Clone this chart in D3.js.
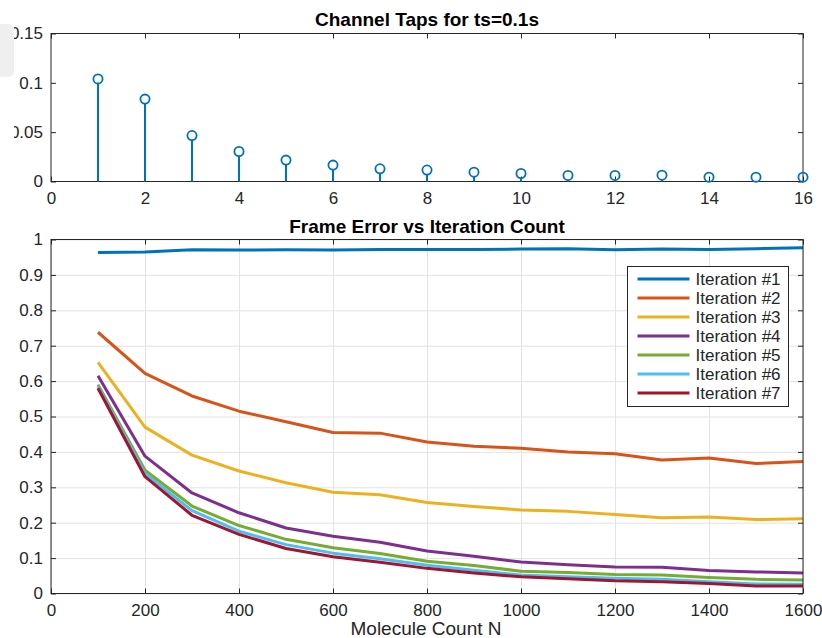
<!DOCTYPE html>
<html>
<head>
    <style>
        body { margin: 0; background: #fff; }
        text { font-family: "Liberation Sans", Arial, sans-serif; fill: #262626; }
        .axis path, .axis line { stroke: #262626; }
        .title { font-weight: bold; fill: #000; }
    </style>
    <script src="https://d3js.org/d3.v7.min.js"></script>
</head>
<body>

<svg width="822" height="638"></svg>

<script>

    // top plot: channel taps
    var tapIndex = [1, 2, 3, 4, 5, 6, 7, 8, 9, 10, 11, 12, 13, 14, 15, 16];
    var tapValue = [0.104, 0.0835, 0.0466, 0.0304, 0.0217, 0.0166, 0.0129, 0.0116,
                    0.0095, 0.0081, 0.0061, 0.0061, 0.0064, 0.0044, 0.0044, 0.0044];
    var tapXTicks = [0, 2, 4, 6, 8, 10, 12, 14, 16];
    var tapYTicks = [0, 0.05, 0.1, 0.15];

    // bottom plot: frame error
    var moleculeCount = [100, 200, 300, 400, 500, 600, 700, 800, 900, 1000, 1100, 1200, 1300, 1400, 1500, 1600];
    var iterNames = ["Iteration #1", "Iteration #2", "Iteration #3", "Iteration #4",
                     "Iteration #5", "Iteration #6", "Iteration #7"];
    var iter1 = [0.963, 0.965, 0.971, 0.970, 0.971, 0.970, 0.972, 0.972, 0.972, 0.973, 0.974, 0.971, 0.973, 0.972, 0.974, 0.977];
    var iter2 = [0.738, 0.622, 0.558, 0.515, 0.485, 0.455, 0.453, 0.428, 0.416, 0.410, 0.400, 0.395, 0.377, 0.383, 0.367, 0.373];
    var iter3 = [0.653, 0.470, 0.391, 0.346, 0.313, 0.286, 0.279, 0.257, 0.246, 0.236, 0.232, 0.223, 0.214, 0.216, 0.209, 0.211];
    var iter4 = [0.615, 0.388, 0.284, 0.228, 0.185, 0.162, 0.145, 0.120, 0.105, 0.089, 0.081, 0.075, 0.074, 0.065, 0.061, 0.058];
    var iter5 = [0.590, 0.348, 0.247, 0.192, 0.153, 0.129, 0.113, 0.091, 0.079, 0.063, 0.059, 0.054, 0.052, 0.045, 0.040, 0.038];
    var iter6 = [0.585, 0.339, 0.234, 0.176, 0.138, 0.114, 0.098, 0.080, 0.066, 0.052, 0.047, 0.043, 0.040, 0.033, 0.027, 0.026];
    var iter7 = [0.580, 0.330, 0.221, 0.167, 0.127, 0.104, 0.088, 0.071, 0.058, 0.047, 0.042, 0.036, 0.033, 0.028, 0.021, 0.021];
    var errXTicks = [0, 200, 400, 600, 800, 1000, 1200, 1400, 1600];
    var errYTicks = [0, 0.1, 0.2, 0.3, 0.4, 0.5, 0.6, 0.7, 0.8, 0.9, 1];

    var iterSeries = [iter1, iter2, iter3, iter4, iter5, iter6, iter7];
    var colors = ["#0072BD", "#D95319", "#EDB120", "#7E2F8E", "#77AC30", "#4DBEEE", "#A2142F"];

    var svg = d3.select("svg");
    var fs = 17;

    var left = 51, right = 803;

    // ---------- top plot ----------
    var top1 = 33.5, bottom1 = 181.5;
    var x1 = d3.scaleLinear().domain([0, 16]).range([left, right]);
    var y1 = d3.scaleLinear().domain([0, 0.15]).range([bottom1, top1]);

    var g1 = svg.append("g");

    g1.append("g")
        .attr("class", "axis")
        .attr("transform", "translate(0," + bottom1 + ")")
        .call(d3.axisBottom(x1).tickValues(tapXTicks).tickSize(-5).tickPadding(10).tickFormat(d3.format("d")))
        .call(function(g) { g.select(".domain").remove(); })
        .selectAll("text").attr("font-size", fs);

    g1.append("g")
        .attr("class", "axis")
        .attr("transform", "translate(" + left + ",0)")
        .call(d3.axisLeft(y1).tickValues(tapYTicks).tickSize(-5).tickPadding(8)
            .tickFormat(function(d) { return d3.format("")(d); }))
        .call(function(g) { g.select(".domain").remove(); })
        .selectAll("text").attr("font-size", fs);

    // top & right ticks
    g1.append("g")
        .attr("class", "axis")
        .attr("transform", "translate(0," + top1 + ")")
        .call(d3.axisTop(x1).tickValues(tapXTicks).tickSize(-5).tickFormat(""))
        .call(function(g) { g.select(".domain").remove(); });
    g1.append("g")
        .attr("class", "axis")
        .attr("transform", "translate(" + right + ",0)")
        .call(d3.axisRight(y1).tickValues(tapYTicks).tickSize(-5).tickFormat(""))
        .call(function(g) { g.select(".domain").remove(); });

    g1.append("rect")
        .attr("x", left).attr("y", top1)
        .attr("width", right - left).attr("height", bottom1 - top1)
        .attr("fill", "none").attr("stroke", "#262626");

    g1.selectAll(".stem")
        .data(tapIndex)
        .enter().append("line")
        .attr("x1", function(d) { return x1(d); })
        .attr("x2", function(d) { return x1(d); })
        .attr("y1", y1(0))
        .attr("y2", function(d, i) { return y1(tapValue[i]) + 4.5; })
        .attr("stroke", colors[0])
        .attr("stroke-width", 2);

    g1.selectAll(".mark")
        .data(tapIndex)
        .enter().append("circle")
        .attr("cx", function(d) { return x1(d); })
        .attr("cy", function(d, i) { return y1(tapValue[i]); })
        .attr("r", 4.6)
        .attr("fill", "none")
        .attr("stroke", colors[0])
        .attr("stroke-width", 1.8);

    svg.append("text")
        .attr("class", "title")
        .attr("x", 427).attr("y", 26)
        .attr("text-anchor", "middle")
        .attr("font-size", 19)
        .text("Channel Taps for ts=0.1s");

    // ---------- bottom plot ----------
    var top2 = 239.5, bottom2 = 593.5;
    var x2 = d3.scaleLinear().domain([0, 1600]).range([left, right]);
    var y2 = d3.scaleLinear().domain([0, 1]).range([bottom2, top2]);

    var g2 = svg.append("g");

    // grid
    g2.append("g")
        .attr("transform", "translate(0," + bottom2 + ")")
        .call(d3.axisBottom(x2).tickValues(errXTicks).tickSize(-(bottom2 - top2)).tickFormat(""))
        .call(function(g) { g.select(".domain").remove(); })
        .selectAll("line").attr("stroke", "#e3e3e3");
    g2.append("g")
        .attr("transform", "translate(" + left + ",0)")
        .call(d3.axisLeft(y2).tickValues(errYTicks).tickSize(-(right - left)).tickFormat(""))
        .call(function(g) { g.select(".domain").remove(); })
        .selectAll("line").attr("stroke", "#e3e3e3");

    g2.append("g")
        .attr("class", "axis")
        .attr("transform", "translate(0," + bottom2 + ")")
        .call(d3.axisBottom(x2).tickValues(errXTicks).tickSize(-5).tickPadding(10).tickFormat(d3.format("d")))
        .call(function(g) { g.select(".domain").remove(); })
        .selectAll("text").attr("font-size", fs);

    g2.append("g")
        .attr("class", "axis")
        .attr("transform", "translate(" + left + ",0)")
        .call(d3.axisLeft(y2).tickValues(errYTicks).tickSize(-5).tickPadding(8)
            .tickFormat(function(d) { return d3.format("")(d); }))
        .call(function(g) { g.select(".domain").remove(); })
        .selectAll("text").attr("font-size", fs);

    g2.append("g")
        .attr("class", "axis")
        .attr("transform", "translate(0," + top2 + ")")
        .call(d3.axisTop(x2).tickValues(errXTicks).tickSize(-5).tickFormat(""))
        .call(function(g) { g.select(".domain").remove(); });
    g2.append("g")
        .attr("class", "axis")
        .attr("transform", "translate(" + right + ",0)")
        .call(d3.axisRight(y2).tickValues(errYTicks).tickSize(-5).tickFormat(""))
        .call(function(g) { g.select(".domain").remove(); });

    var line = d3.line()
        .x(function(d, i) { return x2(moleculeCount[i]); })
        .y(function(d) { return y2(d); });

    g2.selectAll(".series")
        .data(iterSeries)
        .enter().append("path")
        .attr("d", line)
        .attr("fill", "none")
        .attr("stroke", function(d, i) { return colors[i]; })
        .attr("stroke-width", 3)
        .attr("stroke-linejoin", "round");

    g2.append("rect")
        .attr("x", left).attr("y", top2)
        .attr("width", right - left).attr("height", bottom2 - top2)
        .attr("fill", "none").attr("stroke", "#262626");

    // legend
    var lg = svg.append("g").attr("transform", "translate(627.5,266.5)");
    lg.append("rect")
        .attr("width", 161).attr("height", 140)
        .attr("fill", "#fff").attr("stroke", "#262626");
    var rows = lg.selectAll(".row")
        .data(iterNames)
        .enter().append("g")
        .attr("transform", function(d, i) { return "translate(0," + (12.5 + i * 19) + ")"; });
    rows.append("line")
        .attr("x1", 10).attr("x2", 62)
        .attr("stroke", function(d, i) { return colors[i]; })
        .attr("stroke-width", 3);
    rows.append("text")
        .attr("x", 68).attr("y", 6)
        .attr("font-size", fs)
        .attr("fill", "#000")
        .text(function(d) { return d; });

    svg.append("text")
        .attr("class", "title")
        .attr("x", 427).attr("y", 233)
        .attr("text-anchor", "middle")
        .attr("font-size", 19)
        .text("Frame Error vs Iteration Count");

    svg.append("text")
        .attr("x", 426).attr("y", 635)
        .attr("text-anchor", "middle")
        .attr("font-size", 19)
        .text("Molecule Count N");

    // left edge of the figure is cut off, with a light grey tab on top
    svg.append("rect")
        .attr("x", 0).attr("y", 0)
        .attr("width", 14).attr("height", 200)
        .attr("fill", "#fff");
    svg.append("rect")
        .attr("x", -10).attr("y", 24)
        .attr("width", 24).attr("height", 53)
        .attr("rx", 6)
        .attr("fill", "#efefef");
</script>
</body>
</html>
